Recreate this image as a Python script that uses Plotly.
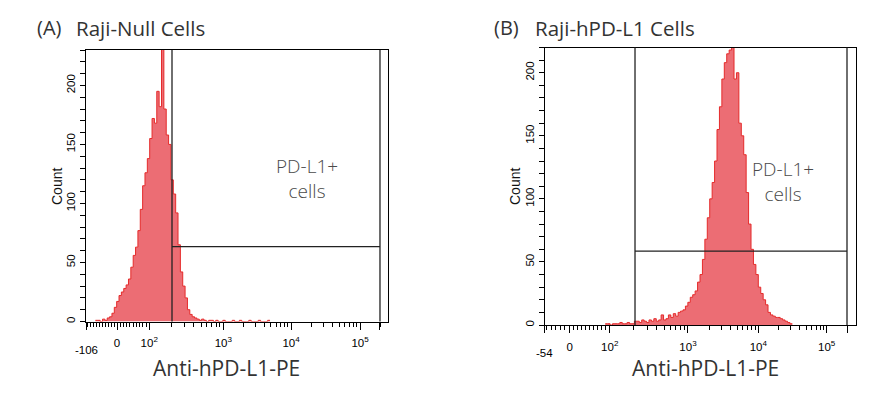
import numpy as np
import plotly.graph_objects as go

W, H = 895, 394

# ---------------- data (display channels 0-256, 2-channel bins) ----------------
a_bin_start = 4
a_counts = [1, 1, 0, 2, 1, 3, 4, 7, 12, 17, 22, 25, 28, 31, 36, 46, 56, 63, 77, 95,
            115, 126, 138, 155, 172, 168, 195, 182, 232, 180, 158, 150, 120, 108, 92,
            65, 42, 30, 20, 10, 6, 4, 3, 2, 1, 2, 1, 0, 1, 1, 0, 1, 0, 0, 1, 0, 0, 0,
            1, 0, 0, 1, 0, 0, 0, 1, 0, 0, 0, 1, 0, 0, 0, 1]
b_bin_start = 25
b_counts = [1, 1, 0, 1, 1, 1, 2, 1, 1, 2, 1, 1, 3, 3, 2, 4, 3, 2, 4, 3, 5, 3, 4, 8,
            4, 5, 8, 6, 9, 7, 10, 11, 12, 15, 18, 22, 24, 27, 34, 40, 52, 68, 85, 100,
            113, 130, 155, 173, 195, 208, 215, 218, 228, 195, 200, 160, 150, 135, 105,
            80, 60, 48, 40, 30, 25, 20, 16, 10, 8, 7, 6, 6, 5, 4, 3, 2, 1]

a_major_vals = [-106, 0, 100, 1e3, 1e4, 1e5, 262144]
a_major_ch = [0, 26.3, 53.6, 116.4, 173.8, 232.3, 256]
b_major_vals = [-54, 0, 100, 1e3, 1e4, 1e5, 262144]
b_major_ch = [0, 20.7, 53.7, 118.1, 176.0, 232.3, 256]
major_labels = ["", "0", "10<sup>2</sup>", "10<sup>3</sup>", "10<sup>4</sup>", "10<sup>5</sup>"]

a_gate_ch = [72.9, 249.2]
a_gate_count = 63.5
b_gate_ch = [74.5, 249.0]
b_gate_count = 58.5

a_ymax, b_ymax = 230, 220
titles = [("(A)", "Raji-Null Cells"), ("(B)", "Raji-hPD-L1 Cells")]
x_title = "Anti-hPD-L1-PE"
y_title = "Count"
gate_text = "PD-L1+<br>cells"

# ---------------- helpers ----------------
def g(v):
    v = np.asarray(v, dtype=float)
    return np.where(v >= 100, np.log10(np.maximum(v, 1e-9)), v / 100.0 + 1.0)

def to_ch(v, mv, mc):
    return np.interp(g(v), g(mv), mc)

def minor_vals(lo):
    lin = [v for v in range(-100, 100, 10) if v > lo and v != 0]
    logs = [d * 10 ** k for k in (2, 3, 4) for d in range(2, 10)] + [2e5]
    return lin + logs

RED_LINE = "#e52b2b"
RED_FILL = "#ec6d74"
TICKFONT = dict(family="Liberation Sans Narrow, Arial Narrow, Liberation Sans, Arial", size=11.5, color="black")
TEXT = "#333333"
HEAD = "Open Sans"

fig = go.Figure()

panels = [
    dict(counts=a_counts, start=a_bin_start, mv=a_major_vals, mc=a_major_ch, gate=a_gate_ch,
         gc=a_gate_count, ymax=a_ymax, xd=[86 / W, 388 / W], yd=[1 - 321.5 / H, 1 - 50 / H],
         low=a_major_vals[0], lowy=-0.105),
    dict(counts=b_counts, start=b_bin_start, mv=b_major_vals, mc=b_major_ch, gate=b_gate_ch,
         gc=b_gate_count, ymax=b_ymax, xd=[544.5 / W, 855.5 / W], yd=[1 - 325 / H, 1 - 47.5 / H],
         low=b_major_vals[0], lowy=-0.101),
]

shapes = []
annotations = []
for i, p in enumerate(panels):
    sfx = "" if i == 0 else "2"
    xa, ya = "x" + sfx, "y" + sfx
    n = len(p["counts"])
    edges = 2 * (p["start"] + np.arange(n + 1))
    ys = list(p["counts"]) + [p["counts"][-1]]
    fig.add_trace(go.Scatter(x=edges, y=ys, mode="lines", line=dict(color=RED_LINE, width=1, shape="hv"),
                             fill="tozeroy", fillcolor=RED_FILL, xaxis=xa, yaxis=ya,
                             showlegend=False, hoverinfo="skip"))
    tickv = list(p["mc"][:-1]) + [p["gate"][1]]
    tickt = major_labels + [""]
    minors = to_ch(minor_vals(p["low"]), p["mv"], p["mc"]).tolist()
    fig.update_layout(**{
        "xaxis" + sfx: dict(domain=p["xd"], range=[0, 256], anchor=ya, tickmode="array", tickvals=tickv,
                            ticktext=tickt, ticks="outside", ticklen=7, tickcolor="black", tickwidth=1,
                            showline=True, linecolor="black", linewidth=1, mirror=True, showgrid=False,
                            zeroline=False, tickfont=TICKFONT, ticklabelstandoff=4,
                            minor=dict(tickmode="array", tickvals=minors, ticks="outside", ticklen=4,
                                       tickcolor="black", tickwidth=1, showgrid=False)),
        "yaxis" + sfx: dict(domain=p["yd"], range=[0, p["ymax"]], anchor=xa, tick0=0, dtick=50,
                            ticks="outside", ticklen=5, tickcolor="black", tickangle=-90,
                            showline=True, linecolor="black", linewidth=1, mirror=True, showgrid=False,
                            zeroline=False, tickfont=TICKFONT,
                            minor=dict(dtick=10, ticks="outside", ticklen=5, tickcolor="black",
                                       showgrid=False)),
    })
    # gate
    for gx in p["gate"]:
        shapes.append(dict(type="line", xref=xa, yref=ya + " domain", x0=gx, x1=gx, y0=0, y1=1,
                           line=dict(color="#222", width=1.3)))
    shapes.append(dict(type="line", xref=xa, yref=ya, x0=p["gate"][0], x1=p["gate"][1],
                       y0=p["gc"], y1=p["gc"], line=dict(color="#222", width=1.3)))
    # low-end tick label
    annotations.append(dict(text=str(p["low"]), xref=xa, yref=ya + " domain", x=p["mc"][0], y=p["lowy"],
                            xanchor="center", yanchor="middle", showarrow=False, font=TICKFONT))
    # gate text
    annotations.append(dict(text=gate_text, xref=xa, yref=ya,
                            x=(187 if i == 0 else 196), y=(121 if i == 0 else 114),
                            showarrow=False, align="center",
                            font=dict(family=HEAD, size=19, color="#4a4a4a", weight=300)))
    # axis titles
    annotations.append(dict(text=x_title, xref="paper", yref="paper",
                            x=(226 if i == 0 else 705) / W, y=1 - 368 / H, xanchor="center",
                            yanchor="middle", showarrow=False,
                            font=dict(family=HEAD, size=21, color=TEXT)))
    annotations.append(dict(text=y_title, xref="paper", yref="paper",
                            x=(57 if i == 0 else 515) / W, y=1 - 187 / H, xanchor="center",
                            yanchor="middle", textangle=-90, showarrow=False,
                            font=dict(family="Liberation Sans, Arial", size=14, color="#111")))
    # panel titles
    annotations.append(dict(text=titles[i][0], xref="paper", yref="paper",
                            x=(35 if i == 0 else 492) / W, y=1 - 28 / H, xanchor="left",
                            yanchor="middle", showarrow=False,
                            font=dict(family=HEAD, size=20, color=TEXT)))
    annotations.append(dict(text=titles[i][1], xref="paper", yref="paper",
                            x=(74 if i == 0 else 533) / W, y=1 - 28 / H, xanchor="left",
                            yanchor="middle", showarrow=False,
                            font=dict(family=HEAD, size=20.5, color=TEXT)))

fig.update_layout(width=W, height=H, margin=dict(l=0, r=0, t=0, b=0),
                  paper_bgcolor="white", plot_bgcolor="white",
                  shapes=shapes, annotations=annotations)

fig.write_html("out.html", config={"displayModeBar": False},
               post_script="document.body.style.margin='0';")
